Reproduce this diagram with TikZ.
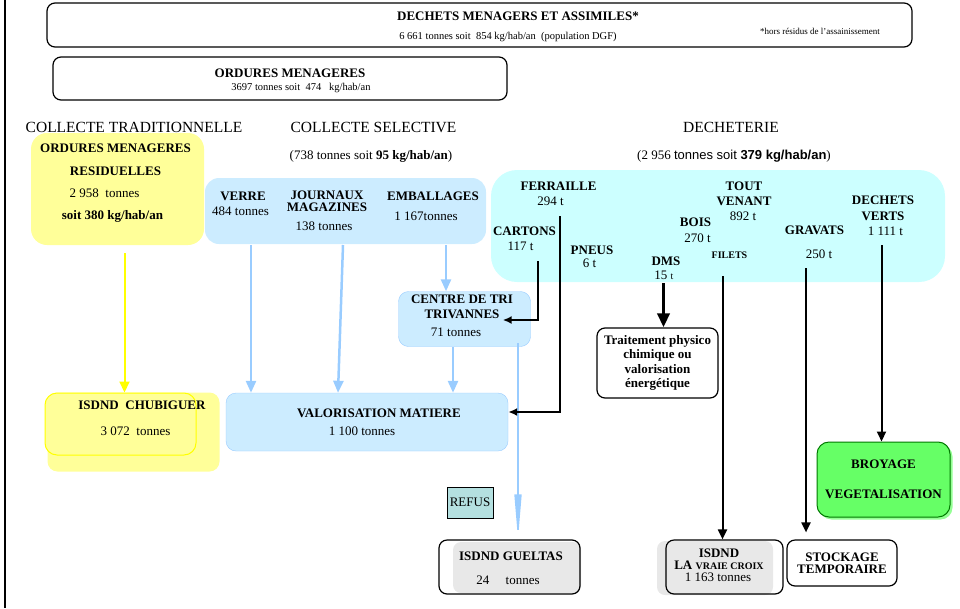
\documentclass[tikz,border=0pt]{standalone}
\usepackage{fontspec}
\setmainfont{Liberation Serif}
\newfontfamily\sansf{Liberation Sans}
\usetikzlibrary{arrows.meta}

\definecolor{jauneClair}{RGB}{255,255,153}
\definecolor{jaune}{RGB}{255,255,0}
\definecolor{bleuClair}{RGB}{204,236,255}
\definecolor{bleuTrait}{RGB}{153,204,255}
\definecolor{cyanClair}{RGB}{204,255,255}
\definecolor{vertClair}{RGB}{102,255,102}
\definecolor{vertFonce}{RGB}{0,120,0}
\definecolor{grisClair}{RGB}{232,232,232}
\definecolor{bleuRefus}{RGB}{180,224,224}

\tikzset{
  cadre/.style={draw=black, line width=1.2pt, rounded corners=8pt, inner sep=0pt},
  fond/.style={fill=#1, inner sep=0pt},
  titre/.style={inner sep=0pt, align=center, font=\fontsize{13}{15}\selectfont\bfseries},
  texte/.style={inner sep=0pt, align=center, font=\fontsize{13}{15}\selectfont},
  petit/.style={inner sep=0pt, font=\fontsize{10.5}{12}\selectfont},
  rubrique/.style={inner sep=0pt, font=\fontsize{15.5}{18}\selectfont},
  flecheNoire/.style={line width=2pt, -{Triangle[length=10pt,width=9pt]}},
  flecheCoude/.style={line width=2pt, -{Latex[length=9pt,width=8pt]}},
  flecheDms/.style={line width=3.5pt, -{Triangle[length=14pt,width=12pt]}},
  flecheBleue/.style={bleuTrait, line width=2.5pt, -{Triangle[length=12pt,width=10pt]}},
  flecheRefus/.style={bleuTrait, line width=1.5pt, -{Triangle[length=45pt,width=7pt]}},
  flecheJaune/.style={jaune, line width=2pt, -{Triangle[length=11pt,width=10pt]}}
}

\begin{document}
\begin{tikzpicture}[x=1pt,y=-1pt]
  \useasboundingbox (0,0) rectangle (960,608);
  \draw[line width=2.5pt] (5,0) -- (5,608);

  % en-tete
  \node[cadre, minimum width=865, minimum height=44] (dma) at (479.5,25) {};
  \node[titre] (tDma) at (518,16) {DECHETS MENAGERS ET ASSIMILES*};
  \node[petit] (sDma) at (508,37) {6~661 tonnes soit\ \ 854~kg/hab/an\ \ (population DGF)};
  \node[inner sep=0pt, font=\fontsize{9}{10}\selectfont] (nDma) at (820,31) {*hors résidus de l'assainissement};
  \node[cadre, minimum width=454, minimum height=43] (om) at (280,78.5) {};
  \node[titre] (tOm) at (290,73) {ORDURES MENAGERES};
  \node[petit] (sOm) at (301,87.5) {3697 tonnes soit\ \ 474\ \ \ kg/hab/an};

  \node[rubrique] (rTrad) at (134,127) {COLLECTE TRADITIONNELLE};
  \node[rubrique] (rSel) at (373.5,127) {COLLECTE SELECTIVE};
  \node[rubrique] (rDech) at (731,127) {DECHETERIE};
  \node[texte] (totSel) at (371,156) {(738 tonnes soit \textbf{95 kg/hab/an})};
  \node[texte] (totDech) at (734,156) {(2~956 {\sansf tonnes soit \textbf{379 kg/hab/an}})};

  % collecte traditionnelle
  \node[fond=jauneClair, rounded corners=16pt, minimum width=173, minimum height=112] (omr) at (117.5,189) {};
  \node[titre, font=\fontsize{13}{22.7}\selectfont\bfseries] (tOmr) at (115.5,160) {ORDURES MENAGERES\\RESIDUELLES};
  \node[texte] (qOmr) at (104.5,193) {2~958\ \ tonnes};
  \node[titre] (kOmr) at (112.5,216) {soit 380 kg/hab/an};

  % collecte selective
  \node[fond=bleuClair, rounded corners=14pt, minimum width=281, minimum height=66] (sel) at (345.5,211) {};
  \node[titre] (tVerre) at (243,196) {VERRE};
  \node[texte] (qVerre) at (240.5,211) {484 tonnes};
  \node[titre, font=\fontsize{13}{12}\selectfont\bfseries] (tJourn) at (327,201.5) {JOURNAUX\\MAGAZINES};
  \node[texte] (qJourn) at (324,226.5) {138 tonnes};
  \node[titre] (tEmb) at (433,196) {EMBALLAGES};
  \node[texte] (qEmb) at (426,216) {1~167tonnes};

  % decheterie
  \node[fond=cyanClair, rounded corners=26pt, minimum width=454, minimum height=112] (dech) at (718,226) {};
  \node[titre] (tFer) at (558.5,186.5) {FERRAILLE};
  \node[texte] (qFer) at (550.5,201.5) {294 t};
  \node[titre] (tCart) at (524.5,231.5) {CARTONS};
  \node[texte] (qCart) at (520.5,246.5) {117 t};
  \node[titre] (tPneu) at (592,250.5) {PNEUS};
  \node[texte] (qPneu) at (589.5,263.5) {6 t};
  \node[titre] (tDms) at (666,261.5) {DMS};
  \node[texte] (qDms) at (664,275.5) {15 {\fontsize{10}{12}\selectfont t}};
  \node[titre] (tBois) at (695.5,222.5) {BOIS};
  \node[texte] (qBois) at (697.5,238.5) {270 t};
  \node[titre, font=\fontsize{13}{14.5}\selectfont\bfseries] (tTout) at (744,194) {TOUT\\VENANT};
  \node[texte] (qTout) at (743,216.5) {892 t};
  \node[titre, font=\fontsize{10}{12}\selectfont\bfseries] (tFil) at (729.5,255) {FILETS};
  \node[titre] (tGrav) at (814.5,230.5) {GRAVATS};
  \node[texte] (qGrav) at (819,254) {250 t};
  \node[titre, font=\fontsize{13}{16}\selectfont\bfseries] (tVerts) at (883,208.5) {DECHETS\\VERTS};
  \node[texte] (qVerts) at (885.5,231.5) {1~111 t};

  % traitements
  \node[fond=bleuClair, draw=bleuTrait, rounded corners=10pt, minimum width=132, minimum height=55] (tri) at (464.5,319) {};
  \node[titre, font=\fontsize{13}{14.7}\selectfont\bfseries] (tTri) at (462,306.5) {CENTRE DE TRI\\TRIVANNES};
  \node[texte] (qTri) at (456,332) {71 tonnes};
  \node[cadre, fill=white, minimum width=121, minimum height=70, titre, font=\fontsize{13}{14.5}\selectfont\bfseries] (trait) at (657.5,363) {Traitement physico\\chimique ou\\valorisation\\énergétique};

  \node[fond=jauneClair, rounded corners=10pt, minimum width=172, minimum height=79] (chubF) at (133.5,432) {};
  \node[fond=jauneClair, draw=jaune, line width=1pt, rounded corners=12pt, minimum width=151, minimum height=62] (chub) at (120.5,424) {};
  \node[titre] (tChub) at (142,405.5) {ISDND\ \ CHUBIGUER};
  \node[texte] (qChub) at (135.5,431) {3~072\ \ tonnes};

  \node[fond=bleuClair, draw=bleuTrait, rounded corners=10pt, minimum width=282, minimum height=58] (valo) at (367,422) {};
  \node[titre] (tValo) at (379,413.5) {VALORISATION MATIERE};
  \node[texte] (qValo) at (362,431) {1~100 tonnes};

  \node[draw, fill=bleuRefus, line width=1pt, minimum width=46, minimum height=31, texte] (refus) at (470,502.5) {REFUS};

  \node[fond=grisClair, rounded corners=8pt, minimum width=128, minimum height=51] (guelF) at (517,567.5) {};
  \node[cadre, minimum width=141, minimum height=54] (guel) at (509.5,567) {};
  \node[titre] (tGuel) at (511,556.5) {ISDND GUELTAS};
  \node[texte] (qGuel) at (508,580) {24\quad\ tonnes};

  \node[fond=grisClair, rounded corners=8pt, minimum width=116, minimum height=54] (lvcF) at (715,568) {};
  \node[cadre, minimum width=117, minimum height=54] (lvc) at (724.5,567) {};
  \node[titre, font=\fontsize{13}{12.3}\selectfont\bfseries] (tLvc) at (719,559) {ISDND\\LA {\fontsize{10}{12}\selectfont VRAIE CROIX}};
  \node[texte] (qLvc) at (718,577) {1~163 tonnes};

  \node[cadre, fill=white, minimum width=110, minimum height=46, titre, font=\fontsize{13}{12.5}\selectfont\bfseries] (stock) at (842,563) {STOCKAGE\\TEMPORAIRE};

  \node[fond=vertClair!70, rounded corners=12pt, minimum width=133, minimum height=75] (broyF) at (886,482) {};
  \node[fond=vertClair, draw=vertFonce, line width=1pt, rounded corners=12pt, minimum width=133, minimum height=75, titre, font=\fontsize{13}{30}\selectfont\bfseries] (broy) at (883.5,479.5) {BROYAGE\\VEGETALISATION};

  % departs des fleches
  \coordinate (dOmr) at (124.5,253);
  \coordinate (dVerre) at (251,245);
  \coordinate (dJourn) at (343,245);
  \coordinate (dEmb) at (446,245);
  \coordinate (dTri) at (453,347);
  \coordinate (dRefus) at (518,343);
  \coordinate (dCart) at (537.5,261);
  \coordinate (dFer) at (559.5,216);
  \coordinate (dDms) at (663.5,283);
  \coordinate (dFil) at (722.5,276);
  \coordinate (dGrav) at (806,268);
  \coordinate (dVerts) at (881.5,245);

  \draw[flecheJaune] (dOmr) -- (dOmr |- chub.north);
  \foreach \from/\to in {dVerre/valo,dEmb/tri,dTri/valo}
    \draw[flecheBleue] (\from) -- (\from |- \to.north);
  \draw[flecheBleue] (dJourn) -- (338,0 |- valo.north);
  \draw[flecheRefus] (dRefus) -- (dRefus |- guel.north);

  \draw[flecheCoude] (dCart) |- ([xshift=-28pt,yshift=-1pt]tri.east);
  \draw[flecheCoude] (dFer) |- ([yshift=10pt]valo.east);
  \draw[flecheDms] (dDms) -- (dDms |- trait.north);
  \foreach \from/\to in {dFil/lvc,dVerts/broy}
    \draw[flecheNoire] (\from) -- (\from |- \to.north);
  \draw[flecheNoire] (dGrav) -- ([yshift=7pt]dGrav |- stock.north);
\end{tikzpicture}
\end{document}
